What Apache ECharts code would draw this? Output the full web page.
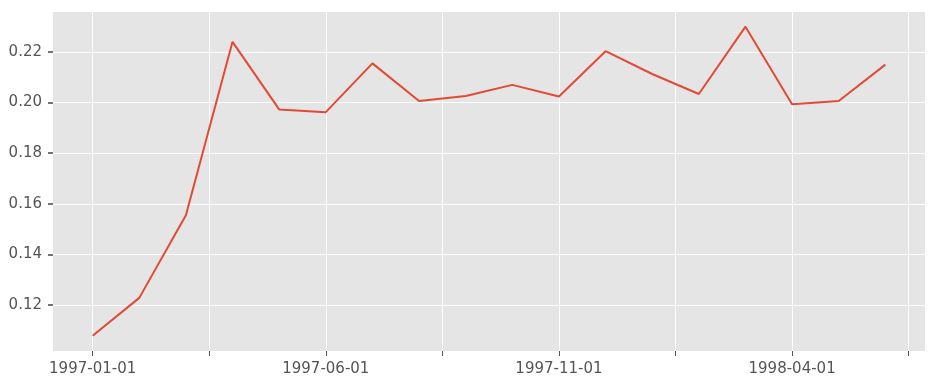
<!DOCTYPE html>
<html>
<head>
<meta charset="utf-8">
<script src="https://cdn.jsdelivr.net/npm/echarts@6/dist/echarts.min.js"></script>
<style>
  html, body { margin: 0; padding: 0; background: #fff; }
  #chart { width: 933px; height: 388px; }
</style>
</head>
<body>
<div id="chart"></div>
<script>
// monthly values, 1997-01 .. 1998-06
const months = [
  '1997-01', '1997-02', '1997-03', '1997-04', '1997-05', '1997-06',
  '1997-07', '1997-08', '1997-09', '1997-10', '1997-11', '1997-12',
  '1998-01', '1998-02', '1998-03', '1998-04', '1998-05', '1998-06'
]
const values = [
  0.1078, 0.1228, 0.1555, 0.2240, 0.1973, 0.1962,
  0.2155, 0.2006, 0.2026, 0.2070, 0.2024, 0.2203,
  0.2113, 0.2034, 0.2300, 0.1993, 0.2006, 0.2150
]
// x tick positions (month index) and the labelled ones
const xTicks = [0, 2.5, 5, 7.5, 10, 12.5, 15, 17.5]
const xLabelPos = [0, 5, 10, 15]
const xLabels = ['1997-01-01', '1997-06-01', '1997-11-01', '1998-04-01']
const yTicks = [0.12, 0.14, 0.16, 0.18, 0.20, 0.22]

const chart = echarts.init(document.getElementById('chart'))

const labelStyle = {
  color: '#555',
  fontSize: 15,
  fontFamily: 'DejaVu Sans'
}

chart.setOption({
  animation: false,
  backgroundColor: '#fff',
  grid: {
    left: 53, right: 8, top: 12, bottom: 37,
    show: true, backgroundColor: '#e5e5e5', borderWidth: 0
  },
  xAxis: {
    type: 'value',
    min: -0.85,
    max: 17.85,
    axisLine: { show: false, onZero: false },
    axisTick: {
      show: true, customValues: xTicks, length: 5,
      lineStyle: { color: '#555', width: 1 }
    },
    axisLabel: {
      ...labelStyle,
      customValues: xLabelPos,
      margin: 11,
      formatter: (v) => xLabels[xLabelPos.indexOf(v)] || ''
    },
    splitLine: { show: true, lineStyle: { color: '#fff', width: 1 } }
  },
  yAxis: {
    type: 'value',
    min: 0.1018,
    max: 0.2358,
    axisLine: { show: false, onZero: false },
    axisTick: {
      show: true, customValues: yTicks, length: 5,
      lineStyle: { color: '#444', width: 1.5 }
    },
    axisLabel: {
      ...labelStyle,
      customValues: yTicks,
      margin: 11,
      formatter: (v) => v.toFixed(2)
    },
    splitLine: { show: true, lineStyle: { color: '#fff', width: 1 } }
  },
  series: [{
    type: 'line',
    data: values.map((v, i) => [i, v]),
    showSymbol: false,
    lineStyle: { color: '#e24a33', width: 2 },
    itemStyle: { color: '#e24a33' }
  }]
})
</script>
</body>
</html>
